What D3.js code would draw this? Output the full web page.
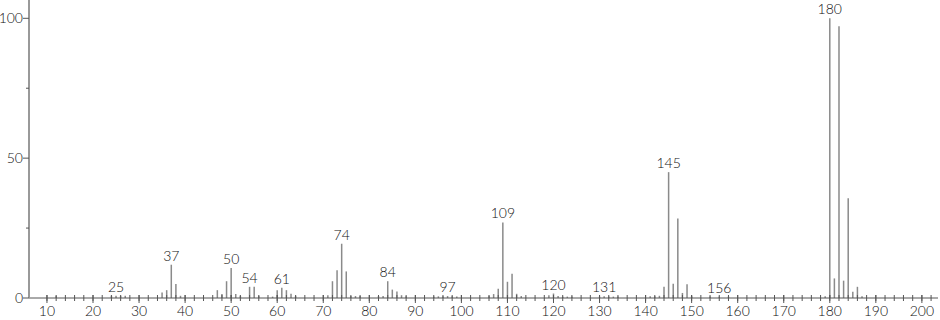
<!DOCTYPE html>
<html>
<head>
<meta charset="utf-8">
<script src="https://cdn.jsdelivr.net/npm/d3@7"></script>
<style>
  body { margin: 0; background: #fff; }
  text { font-family: Lato, "Liberation Sans", sans-serif; font-size: 14px; font-weight: 300; fill: #111; }
</style>
</head>
<body>
<svg id="chart" width="940" height="320"></svg>
<script>
// m/z values and relative intensities (%)
const mz = [12, 24, 25, 26, 27, 35, 36, 37, 38, 39,
    47, 48, 49, 50, 51, 52, 54, 55, 56, 59, 60, 61, 62, 63, 64,
    71, 72, 73, 74, 75, 76, 77, 78, 82, 83, 84, 85, 86, 87, 88,
    94, 95, 96, 97, 98, 99, 106, 107, 108, 109, 110, 111, 112, 113,
    119, 120, 121, 122, 123, 124, 130, 131, 132, 133, 134,
    141, 142, 143, 144, 145, 146, 147, 148, 149, 150, 154, 156, 158,
    179, 180, 181, 182, 183, 184, 185, 186, 187];
const intensity = [0.8, 0.8, 0.8, 0.8, 0.8, 2, 2.8, 11.9, 5, 0.8,
    2.8, 1.4, 6, 10.7, 1.4, 0.8, 4, 4, 0.8, 0.5, 2.8, 3.7, 2.8, 1.5, 0.8,
    1, 6, 9.9, 19.4, 9.5, 0.7, 0.7, 0.7, 0.7, 0.7, 6, 3, 2.3, 1, 0.6,
    0.5, 0.6, 0.6, 0.7, 0.6, 0.5, 0.8, 1.4, 3.3, 27, 5.8, 8.7, 1.5, 0.7,
    1, 1.6, 0.7, 0.5, 0.5, 0.5, 0.5, 0.6, 0.5, 0.5, 0.5,
    0.6, 0.6, 0.8, 4, 45, 5.1, 28.4, 1.8, 4.9, 0.6, 0.5, 0.5, 0.5,
    0.6, 100, 7, 97.2, 6.2, 35.7, 2.2, 4, 0.6];
const labelled = [25, 37, 50, 54, 61, 74, 84, 97, 109, 120, 131, 145, 156, 180];
const xTicks = d3.range(10, 201, 10);
const xMinor = d3.range(10, 203, 2);
const yTicks = [0, 50, 100];
const yMinor = [25, 75];

const peaks = mz.map((m, i) => ({ mz: m, val: intensity[i] }));

const svg = d3.select("#chart");

const x = d3.scaleLinear().domain([6.1, 203.5]).range([29, 938]);
const y = d3.scaleLinear().domain([0, 100]).range([298, 18.3]);

const y0 = y(0);

// peaks
svg.append("g")
    .selectAll("line")
    .data(peaks)
    .enter()
    .append("line")
    .attr("x1", d => x(d.mz))
    .attr("x2", d => x(d.mz))
    .attr("y1", y0)
    .attr("y2", d => y(d.val))
    .attr("stroke", "#8a8a8a")
    .attr("stroke-width", 1.5);

// peak labels
svg.append("g")
    .selectAll("text")
    .data(peaks.filter(d => labelled.includes(d.mz)))
    .enter()
    .append("text")
    .attr("x", d => x(d.mz))
    .attr("y", d => y(d.val) - 4)
    .attr("text-anchor", "middle")
    .text(d => d.mz);

// x axis
const xa = svg.append("g");
xa.append("line")
    .attr("x1", x.range()[0]).attr("x2", x.range()[1])
    .attr("y1", y0).attr("y2", y0)
    .attr("stroke", "#555");
xa.selectAll(".minor")
    .data(xMinor)
    .enter()
    .append("line")
    .attr("class", "minor")
    .attr("x1", d => x(d)).attr("x2", d => x(d))
    .attr("y1", y0 - 3).attr("y2", y0 + 3)
    .attr("stroke", "#555");
xa.selectAll(".major")
    .data(xTicks)
    .enter()
    .append("line")
    .attr("class", "major")
    .attr("x1", d => x(d)).attr("x2", d => x(d))
    .attr("y1", y0 - 3).attr("y2", y0 + 5)
    .attr("stroke", "#555");
xa.selectAll("text")
    .data(xTicks)
    .enter()
    .append("text")
    .attr("x", d => x(d))
    .attr("y", 316)
    .attr("text-anchor", "middle")
    .text(d => d);

// y axis
const ya = svg.append("g");
ya.append("line")
    .attr("x1", x.range()[0]).attr("x2", x.range()[0])
    .attr("y1", y0).attr("y2", 0)
    .attr("stroke", "#999")
    .attr("stroke-width", 2);
ya.selectAll(".major")
    .data(yTicks)
    .enter()
    .append("line")
    .attr("x1", 23).attr("x2", 29)
    .attr("y1", d => y(d)).attr("y2", d => y(d))
    .attr("stroke", "#555");
ya.selectAll(".minor")
    .data(yMinor)
    .enter()
    .append("line")
    .attr("x1", 26).attr("x2", 29)
    .attr("y1", d => y(d)).attr("y2", d => y(d))
    .attr("stroke", "#555");
ya.selectAll("text")
    .data(yTicks)
    .enter()
    .append("text")
    .attr("x", 23)
    .attr("y", d => y(d) + 5)
    .attr("text-anchor", "end")
    .text(d => d);
</script>
</body>
</html>
